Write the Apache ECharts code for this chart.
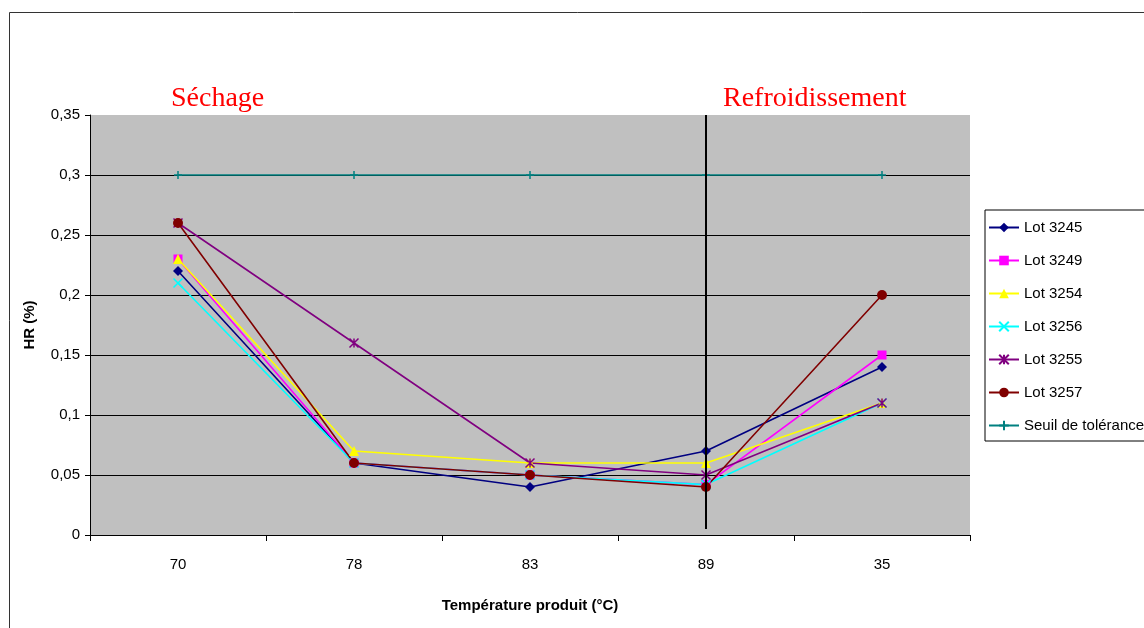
<!DOCTYPE html>
<html><head><meta charset="utf-8">
<script src="https://cdn.jsdelivr.net/npm/echarts@6/dist/echarts.min.js"></script>
<style>html,body{margin:0;padding:0;background:#fff}#c{width:1144px;height:628px}</style>
</head><body><div id="c"></div>
<script>
var categories = ['70', '78', '83', '89', '35'];
var lot3245 = [0.22, 0.06, 0.04, 0.07, 0.14];
var lot3249 = [0.23, 0.06, 0.05, 0.042, 0.15];
var lot3254 = [0.23, 0.07, 0.06, 0.06, 0.11];
var lot3256 = [0.21, 0.06, 0.05, 0.042, 0.11];
var lot3255 = [0.26, 0.16, 0.06, 0.05, 0.11];
var lot3257 = [0.26, 0.06, 0.05, 0.04, 0.20];
var seuil = [0.3, 0.3, 0.3, 0.3, 0.3];
var seriesNames = ['Lot 3245', 'Lot 3249', 'Lot 3254', 'Lot 3256', 'Lot 3255', 'Lot 3257', 'Seuil de tolérance'];
var phaseLabels = ['Séchage', 'Refroidissement'];

var xPath = 'path://M0,0 L10,10 M10,0 L0,10';
var starPath = 'path://M0,0 L10,10 M10,0 L0,10 M5,0 L5,10';
var plusPath = 'path://M5,0 L5,10 M0,5 L10,5';

function mk(name, data, color, symbol, size, stroke) {
  return {
    name: name, type: 'line', data: data, symbol: symbol, symbolSize: size,
    showSymbol: true,
    lineStyle: { color: color, width: 1.6 },
    itemStyle: stroke ? { color: 'none', borderColor: color, borderWidth: 1.5 } : { color: color, borderColor: color, borderWidth: 0 },
    emphasis: { disabled: true },
    animation: false
  };
}

var chart = echarts.init(document.getElementById('c'), null, { renderer: 'canvas' });
var series = [
  mk(seriesNames[0], lot3245, '#000080', 'diamond', 10, false),
  mk(seriesNames[1], lot3249, '#ff00ff', 'rect', 9, false),
  mk(seriesNames[2], lot3254, '#ffff00', 'triangle', 10, false),
  mk(seriesNames[3], lot3256, '#00ffff', xPath, 9, true),
  mk(seriesNames[4], lot3255, '#800080', starPath, 9, true),
  mk(seriesNames[5], lot3257, '#800000', 'circle', 10, false),
  mk(seriesNames[6], seuil, '#008080', plusPath, 8, true)
];
series[0].markLine = {
  silent: true, symbol: 'none', animation: false,
  label: { show: false },
  lineStyle: { color: '#000', width: 2, type: 'solid' },
  data: [[{ coord: ['89', 0.35] }, { coord: ['89', 0.005] }]]
};

chart.setOption({
  animation: false,
  backgroundColor: '#fff',
  graphic: [{
    type: 'rect', left: 7, top: 10, silent: true, z: -10,
    shape: { width: 1300, height: 800 },
    style: { fill: 'none', stroke: '#333', lineWidth: 1 }
  }],
  title: [
    { text: phaseLabels[0], left: 171, top: 85, padding: 0, textStyle: { fontFamily: 'Liberation Serif', fontSize: 28, fontWeight: 'normal', color: '#ff0000' } },
    { text: phaseLabels[1], left: 723, top: 85, padding: 0, textStyle: { fontFamily: 'Liberation Serif', fontSize: 28, fontWeight: 'normal', color: '#ff0000' } }
  ],
  legend: {
    orient: 'vertical', left: 985, top: 210,
    data: seriesNames,
    borderColor: '#000', borderWidth: 1,
    padding: [10, 40, 8, 3],
    itemWidth: 30, itemHeight: 12, itemGap: 18,
    textStyle: { fontFamily: 'Liberation Sans', fontSize: 15, color: '#000' },
    selectedMode: false
  },
  grid: { left: 90, right: 174, top: 115, bottom: 93, show: true, backgroundColor: '#c0c0c0', borderWidth: 0 },
  xAxis: {
    type: 'category', data: categories, boundaryGap: true,
    name: 'Température produit (°C)', nameLocation: 'middle', nameGap: 63,
    nameTextStyle: { fontFamily: 'Liberation Sans', fontSize: 15, fontWeight: 'bold', color: '#000' },
    axisLine: { lineStyle: { color: '#000', width: 1 } },
    axisTick: { show: true, length: 6, lineStyle: { color: '#000' } },
    axisLabel: { fontFamily: 'Liberation Sans', fontSize: 15, color: '#000', margin: 22 },
    splitLine: { show: false }
  },
  yAxis: {
    type: 'value', min: 0, max: 0.35, interval: 0.05,
    name: 'HR (%)', nameLocation: 'middle', nameGap: 53,
    nameTextStyle: { fontFamily: 'Liberation Sans', fontSize: 15, fontWeight: 'bold', color: '#000' },
    axisLine: { show: true, lineStyle: { color: '#000', width: 1 } },
    axisTick: { show: true, length: 5, lineStyle: { color: '#000' } },
    axisLabel: { fontFamily: 'Liberation Sans', fontSize: 15, color: '#000', margin: 10,
      formatter: function (v) { return String(parseFloat(v.toFixed(2))).replace('.', ','); } },
    splitLine: { show: true, showMaxLine: false, lineStyle: { color: '#000', width: 1 } }
  },
  series: series
});
</script></body></html>
